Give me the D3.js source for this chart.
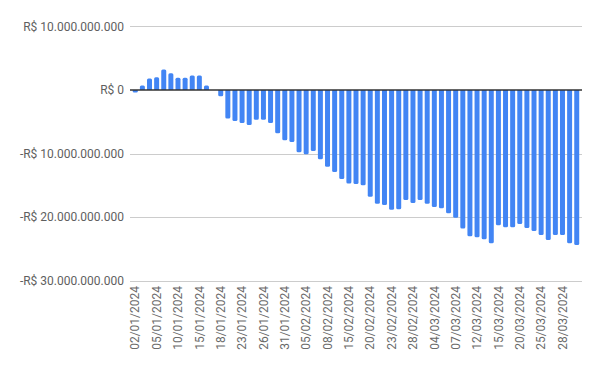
<!DOCTYPE html>
<html>
<head>
<meta charset="utf-8">
<script src="https://cdn.jsdelivr.net/npm/d3@7"></script>
<style>
  body { margin: 0; background: #fff; }
  svg { display: block; font-family: Roboto, Arial, sans-serif; }
</style>
</head>
<body>
<svg id="chart" width="600" height="371"></svg>
<script>
// business days shown on the x axis
const dates = [
  "02/01/2024", "03/01/2024", "04/01/2024", "05/01/2024", "08/01/2024", "09/01/2024",
  "10/01/2024", "11/01/2024", "12/01/2024", "15/01/2024", "16/01/2024", "17/01/2024",
  "18/01/2024", "19/01/2024", "22/01/2024", "23/01/2024", "24/01/2024", "25/01/2024",
  "26/01/2024", "29/01/2024", "30/01/2024", "31/01/2024", "01/02/2024", "02/02/2024",
  "05/02/2024", "06/02/2024", "07/02/2024", "08/02/2024", "09/02/2024", "14/02/2024",
  "15/02/2024", "16/02/2024", "19/02/2024", "20/02/2024", "21/02/2024", "22/02/2024",
  "23/02/2024", "26/02/2024", "27/02/2024", "28/02/2024", "29/02/2024", "01/03/2024",
  "04/03/2024", "05/03/2024", "06/03/2024", "07/03/2024", "08/03/2024", "11/03/2024",
  "12/03/2024", "13/03/2024", "14/03/2024", "15/03/2024", "18/03/2024", "19/03/2024",
  "20/03/2024", "21/03/2024", "22/03/2024", "25/03/2024", "26/03/2024", "27/03/2024",
  "28/03/2024", "01/04/2024", "02/04/2024"
];

// accumulated balance, in billions of R$
const values = [
  -0.4, 0.7, 1.8, 2.0, 3.2, 2.6, 1.9, 1.9, 2.25, 2.25, 0.7, 0,
  -1.0, -4.5, -4.9, -5.2, -5.5, -4.7, -4.7, -5.2, -6.8, -7.9, -8.2, -9.8,
  -10.1, -9.6, -10.9, -12.1, -12.9, -14.0, -14.7, -14.8, -15.0, -16.8, -17.9, -18.1,
  -18.85, -18.75, -17.3, -17.8, -17.3, -17.9, -18.4, -18.6, -19.4, -20.1, -21.8, -23.0,
  -23.15, -23.5, -24.1, -21.3, -21.6, -21.6, -21.1, -21.7, -22.2, -22.8, -23.6, -22.8,
  -22.8, -24.1, -24.4
];

const yTicks = [10, 0, -10, -20, -30];
const yTickLabels = [
  "R$ 10.000.000.000", "R$ 0", "-R$ 10.000.000.000",
  "-R$ 20.000.000.000", "-R$ 30.000.000.000"
];

const svg = d3.select("#chart");
const plotLeft = 130, plotRight = 582, plotTop = 26.3, plotBottom = 280.7;

const x = d3.scaleBand()
  .domain(dates)
  .range([plotLeft, plotRight])
  .paddingInner(0.3)
  .paddingOuter(0.39);

const y = d3.scaleLinear().domain([-30, 10]).range([plotBottom, plotTop]);

// gridlines + y labels
const grid = svg.append("g");
grid.selectAll("line")
  .data(yTicks.filter(d => d !== 0))
  .join("line")
  .attr("x1", plotLeft)
  .attr("x2", plotRight)
  .attr("y1", d => Math.round(y(d)) + 0.5)
  .attr("y2", d => Math.round(y(d)) + 0.5)
  .attr("stroke", "#cccccc")
  .attr("stroke-width", 1);

grid.selectAll("text")
  .data(yTicks)
  .join("text")
  .attr("x", 124)
  .attr("y", d => y(d))
  .attr("dy", "0.35em")
  .attr("text-anchor", "end")
  .attr("font-size", 12)
  .attr("fill", "#5f5f5f")
  .text((d, i) => yTickLabels[i]);

// bars
const bw = x.bandwidth();
svg.append("g")
  .selectAll("path")
  .data(values.map((v, i) => ({ date: dates[i], v: v })))
  .join("path")
  .attr("fill", "#4285f4")
  .attr("d", d => {
    if (d.v === 0) return "";
    const x0 = x(d.date);
    const y0 = y(0), y1 = y(d.v);
    const r = Math.min(1.5, Math.abs(y1 - y0) / 2);
    const s = d.v > 0 ? 1 : -1;
    return "M" + x0 + "," + y0 +
      "V" + (y1 + s * r) +
      "Q" + x0 + "," + y1 + " " + (x0 + r) + "," + y1 +
      "H" + (x0 + bw - r) +
      "Q" + (x0 + bw) + "," + y1 + " " + (x0 + bw) + "," + (y1 + s * r) +
      "V" + y0 + "Z";
  });

// zero line
svg.append("line")
  .attr("x1", plotLeft)
  .attr("x2", plotRight)
  .attr("y1", y(0))
  .attr("y2", y(0))
  .attr("stroke", "#333333")
  .attr("stroke-width", 1.5);

// x labels, every third day
svg.append("g")
  .selectAll("text")
  .data(dates.filter((d, i) => i % 3 === 0))
  .join("text")
  .attr("transform", d => "translate(" + (x(d) + bw / 2) + ",286) rotate(-90)")
  .attr("dy", "0.35em")
  .attr("text-anchor", "end")
  .attr("font-size", 12)
  .attr("fill", "#6a6a6a")
  .text(d => d);
</script>
</body>
</html>
